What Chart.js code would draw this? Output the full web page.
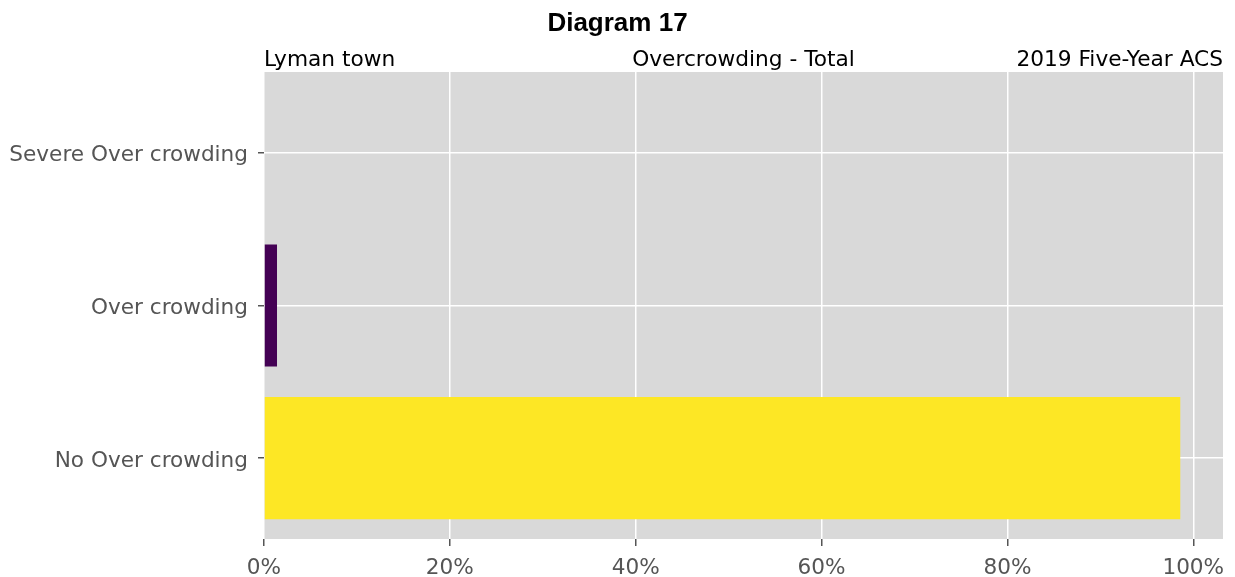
<!DOCTYPE html>
<html>
<head>
<meta charset="utf-8">
<script src="https://cdn.jsdelivr.net/npm/chart.js@4/dist/chart.umd.min.js"></script>
<style>
	html, body { margin: 0; padding: 0; background: #ffffff; }
	#wrap { width: 1235px; height: 577px; }
</style>
</head>
<body>
<div id="wrap"><canvas id="chart" width="1235" height="577"></canvas></div>
<script>
// categories bottom-to-top, as matplotlib places them
const categories = ['No Over crowding', 'Over crowding', 'Severe Over crowding'];
const shares = [98.6, 1.4, 0];
const barColors = ['#fde725', '#440154', '#440154'];
const xTickValues = [0, 20, 40, 60, 80, 100];

const titleText = 'Diagram 17';
const placeText = 'Lyman town';
const topicText = 'Overcrowding - Total';
const sourceText = '2019 Five-Year ACS';

const tickFont = { family: 'DejaVu Sans', size: 21.6 };
const tickColor = '#555555';

const panelPlugin = {
	id: 'panel',
	beforeDraw: function (chart) {
		const a = chart.chartArea;
		const ctx = chart.ctx;
		ctx.save();
		ctx.fillStyle = '#d9d9d9';
		ctx.fillRect(a.left, a.top, a.right - a.left, a.bottom - a.top);
		ctx.restore();
	},
	afterDraw: function (chart) {
		const a = chart.chartArea;
		const ctx = chart.ctx;
		ctx.save();
		ctx.fillStyle = '#000000';
		ctx.textBaseline = 'alphabetic';
		ctx.font = 'bold 26px "Liberation Sans", Arial, sans-serif';
		ctx.textAlign = 'center';
		ctx.fillText(titleText, chart.width / 2, 31);

		ctx.font = '21.7px "DejaVu Sans"';
		ctx.textAlign = 'left';
		ctx.fillText(placeText, a.left, 66);
		ctx.textAlign = 'center';
		ctx.fillText(topicText, (a.left + a.right) / 2, 66);
		ctx.textAlign = 'right';
		ctx.fillText(sourceText, a.right, 66);
		ctx.restore();
	}
};

const ctx = document.getElementById('chart');
new Chart(ctx, {
	type: 'bar',
	data: {
		datasets: [{
			data: shares.map((v, i) => ({ x: v, y: i })),
			backgroundColor: barColors,
			borderWidth: 0,
			barPercentage: 0.8,
			categoryPercentage: 1
		}]
	},
	options: {
		indexAxis: 'y',
		responsive: false,
		animation: false,
		layout: {
			padding: { left: 0, right: 12, top: 72, bottom: 0 }
		},
		scales: {
			x: {
				type: 'linear',
				min: 0,
				max: 103.2,
				offset: false,
				afterBuildTicks: function (scale) {
					scale.ticks = xTickValues.map(v => ({ value: v }));
				},
				afterFit: function (scale) {
					scale.height = 38;
				},
				border: { display: false },
				grid: {
					offset: false,
					color: '#ffffff',
					lineWidth: 1.5,
					tickColor: tickColor,
					tickLength: 7,
					tickWidth: 1.5
				},
				ticks: {
					color: tickColor,
					font: tickFont,
					padding: 9,
					maxRotation: 0,
					callback: v => v + '%'
				}
			},
			y: {
				type: 'linear',
				min: -0.53,
				max: 2.53,
				offset: false,
				afterBuildTicks: function (scale) {
					scale.ticks = categories.map((c, i) => ({ value: i }));
				},
				afterFit: function (scale) {
					scale.width = 264;
				},
				border: { display: false },
				grid: {
					offset: false,
					color: '#ffffff',
					lineWidth: 1.5,
					tickColor: tickColor,
					tickLength: 6,
					tickWidth: 1.5
				},
				ticks: {
					color: tickColor,
					font: tickFont,
					padding: 10,
					labelOffset: 3,
					callback: v => categories[v]
				}
			}
		},
		plugins: {
			legend: { display: false },
			tooltip: { enabled: false },
			title: { display: false }
		}
	},
	plugins: [panelPlugin]
});
</script>
</body>
</html>
